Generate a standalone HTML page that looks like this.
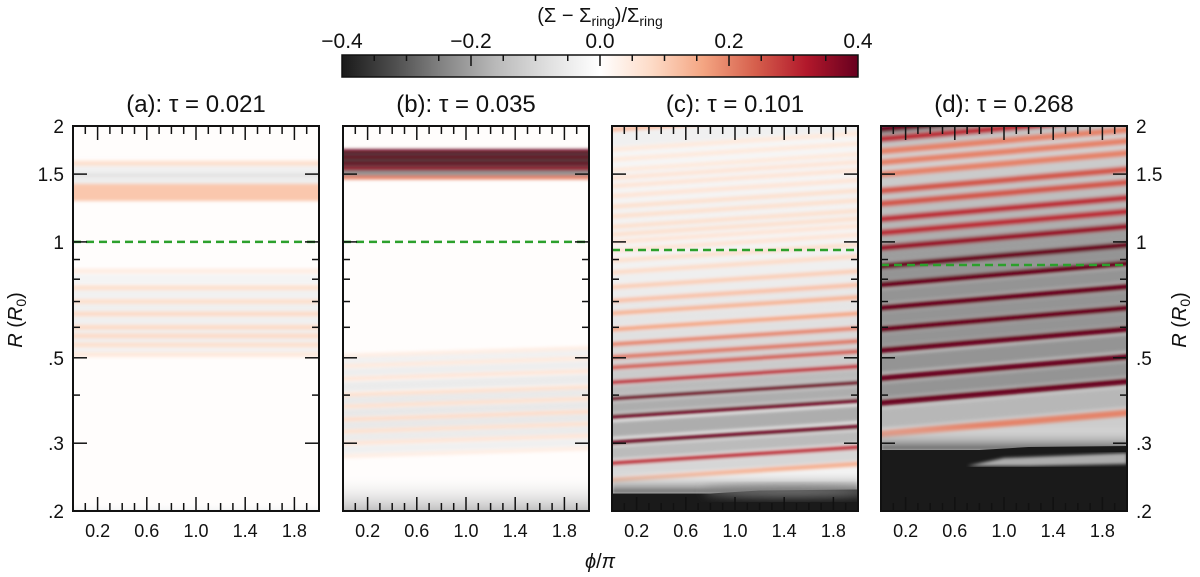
<!DOCTYPE html>
<html><head><meta charset="utf-8">
<style>
html,body{margin:0;padding:0;background:#fff;}
svg{display:block;font-family:"Liberation Sans","DejaVu Sans",sans-serif;}
</style></head>
<body>
<svg id="fig" width="1200" height="577" viewBox="0 0 1200 577" xmlns="http://www.w3.org/2000/svg">
<defs>
<linearGradient id="cbgrad" x1="0" x2="1" y1="0" y2="0">
<stop offset="0" stop-color="#1a1a1a"/><stop offset="0.1" stop-color="#4d4d4d"/><stop offset="0.2" stop-color="#878787"/><stop offset="0.3" stop-color="#bababa"/><stop offset="0.4" stop-color="#e0e0e0"/><stop offset="0.5" stop-color="#ffffff"/><stop offset="0.6" stop-color="#fddbc7"/><stop offset="0.7" stop-color="#f4a582"/><stop offset="0.8" stop-color="#d6604d"/><stop offset="0.9" stop-color="#b2182b"/><stop offset="1" stop-color="#67001f"/>
</linearGradient>
<filter id="blur" x="-5%" y="-5%" width="110%" height="110%"><feGaussianBlur stdDeviation="1.6"/></filter>
<filter id="blur2" x="-20%" y="-50%" width="140%" height="200%"><feGaussianBlur stdDeviation="5"/></filter>
</defs>
</svg>
<script>
// ---- data ----
const panelTitles = ["(a):  τ = 0.021","(b):  τ = 0.035","(c):  τ = 0.101","(d):  τ = 0.268"];
const ringR = [1.0, 1.0, 0.953, 0.871];
const tiltLogR = [0, 0.022, 0.045, 0.06];
const bgVal = [0.004, 0.004, -0.03, -0.12];
const stripesA_R = [1.6, 1.49, 1.37, 1.32, 0.84, 0.76, 0.70, 0.65, 0.60, 0.57, 0.54, 0.51];
const stripesA_V = [0.07, -0.07, 0.11, 0.11, 0.04, 0.07, 0.07, 0.08, 0.08, 0.08, 0.07, 0.05];
const stripesB_R = [1.72, 1.66, 1.60, 1.55, 1.47, 0.505, 0.475, 0.44, 0.40, 0.373, 0.345, 0.321, 0.299, 0.277];
const stripesB_V = [0.4, 0.4, 0.4, 0.35, 0.2, 0.04, 0.05, 0.06, 0.07, 0.07, 0.08, 0.07, 0.06, 0.04];
const stripesC_R = [1.95, 1.73, 1.63, 1.53, 1.46, 1.39, 1.31, 1.23, 1.16, 1.09, 1.04, 0.995, 0.945, 0.89, 0.83, 0.76, 0.70, 0.65, 0.59, 0.54, 0.50, 0.47, 0.43, 0.39, 0.35, 0.30, 0.265, 0.24];
const stripesC_V = [0.12, 0.05, 0.05, 0.05, 0.06, 0.06, 0.06, 0.07, 0.07, 0.07, 0.07, 0.06, 0.06, 0.07, 0.08, 0.1, 0.12, 0.14, 0.16, 0.2, 0.22, 0.25, 0.3, 0.4, 0.4, 0.4, 0.3, 0.15];
const stripesD_R = [1.95, 1.84, 1.71, 1.60, 1.49, 1.35, 1.25, 1.14, 1.05, 0.96, 0.86, 0.77, 0.67, 0.59, 0.52, 0.44, 0.38, 0.315];
const stripesD_V = [0.4, 0.3, 0.2, 0.2, 0.2, 0.25, 0.25, 0.3, 0.3, 0.35, 0.4, 0.4, 0.4, 0.4, 0.4, 0.4, 0.4, 0.2];
const bottomR = [0.212, 0.25, 0.222, 0.288];
const bottomV = [-0.03, -0.15, -0.4, -0.4];
const gapFactor = [0.5, 0.8, 0.45, 0.55];
const xTickVals = [0.2, 0.6, 1.0, 1.4, 1.8];
const xTickLabels = ["0.2","0.6","1.0","1.4","1.8"];
const yTickVals = [2, 1.5, 1, 0.5, 0.3, 0.2];
const yTickLabels = ["2","1.5","1",".5",".3",".2"];
const yMinorVals = [0.9, 0.8, 0.7, 0.6, 0.4];
const cbTickVals = [-0.4, -0.2, 0.0, 0.2, 0.4];
const cbTickLabels = ["−0.4","−0.2","0.0","0.2","0.4"];

const stripesR = [stripesA_R, stripesB_R, stripesC_R, stripesD_R];
const stripesV = [stripesA_V, stripesB_V, stripesC_V, stripesD_V];
const stripeW = [5, 4, 4.5, 6.5];

// ---- layout ----
const NS = "http://www.w3.org/2000/svg";
const svg = document.getElementById('fig');
const panelX = [73, 343, 612, 881];
const PW = 246, PT = 126, PB = 511;
const cbX0 = 342, cbX1 = 858, cbY0 = 55, cbY1 = 77;
function yOf(R){ return PT + (Math.log10(2) - Math.log10(R)) * (PB - PT); }
function xOf(p, phi){ return panelX[p] + phi / 2 * PW; }
function cbX(v){ return cbX0 + (v + 0.4) / 0.8 * (cbX1 - cbX0); }
const cmapStops = ["#1a1a1a","#4d4d4d","#878787","#bababa","#e0e0e0","#ffffff","#fddbc7","#f4a582","#d6604d","#b2182b","#67001f"];
function hex(c){ return [parseInt(c.substr(1,2),16),parseInt(c.substr(3,2),16),parseInt(c.substr(5,2),16)]; }
function cmap(v){
  let t = Math.max(0, Math.min(1, (v + 0.4) / 0.8)) * 10;
  let i = Math.min(9, Math.floor(t)), f = t - i;
  const a = hex(cmapStops[i]), b = hex(cmapStops[i+1]);
  return 'rgb(' + a.map((x,k)=>Math.round(x + (b[k]-x)*f)).join(',') + ')';
}
function mk(tag, attrs, parent){
  const e = document.createElementNS(NS, tag);
  for (const k in attrs) e.setAttribute(k, attrs[k]);
  (parent || svg).appendChild(e);
  return e;
}

// colorbar
const cbTitle = mk('text', {x: 600, y: 22, 'text-anchor':'middle', 'font-size': 20, fill:'#111'});


cbTitle.innerHTML = '(Σ − Σ<tspan font-size="14" dy="4">ring</tspan><tspan dy="-4">)/Σ</tspan><tspan font-size="14" dy="4">ring</tspan>';
const cbRect = mk('rect', {x: cbX0, y: cbY0, width: cbX1-cbX0, height: cbY1-cbY0, fill:'url(#cbgrad)', stroke:'#111', 'stroke-width':1.5});


for (let k = -7; k <= 7; k++) {
  const v = k * 0.05;
  const major = (k % 4 === 0);
  mk('line', {x1: cbX(v), x2: cbX(v), y1: cbY0, y2: cbY0 + (major ? 11 : 6), stroke:'#111', 'stroke-width': 1.5});
}
cbTickVals.forEach((v, i) => {
  const t = mk('text', {x: cbX(v), y: 48, 'text-anchor':'middle', 'font-size': 21, fill:'#111'});
  
  
  t.textContent = cbTickLabels[i];
});

// panels
for (let p = 0; p < 4; p++) {
  const g = mk('g', {});
  
  
  const x0 = panelX[p], x1 = x0 + PW;
  const clip = mk('clipPath', {id: 'clip' + p}, svg.querySelector('defs'));
  mk('rect', {x: x0, y: PT, width: PW, height: PB-PT}, clip);
  const hm = mk('g', {'clip-path': 'url(#clip' + p + ')'}, g);
  
  
  mk('rect', {x: x0, y: PT, width: PW, height: PB-PT, fill: cmap(bgVal[p])}, hm);
  const inner = mk('g', {filter: 'url(#blur)'}, hm);
  const Rs = stripesR[p], Vs = stripesV[p];
  const rise = tiltLogR[p] * (PB - PT);
  function band(R, v, w, flat){
    const yl = yOf(R), r = flat ? 0 : rise;
    const pts = [[x0-10, yl - w/2], [x1+10, yl - r - w/2], [x1+10, yl - r + w/2], [x0-10, yl + w/2]];
    const e = mk('polygon', {points: pts.map(q=>q.join(',')).join(' '), fill: cmap(v)}, inner);
    
    
  }
  for (let i = 0; i + 1 < Rs.length; i++) {
    const ya = yOf(Rs[i]), yb = yOf(Rs[i+1]);
    if (yb - ya > 45) continue;
    const Rm = Math.sqrt(Rs[i] * Rs[i+1]);
    const vm = -gapFactor[p] * (Math.abs(Vs[i]) + Math.abs(Vs[i+1])) / 2;
    band(Rm, vm, (yb - ya) * 0.6, p === 1 && Rm > 1);
  }
  for (let i = 0; i < Rs.length; i++) band(Rs[i], Vs[i], stripeW[p] * (Math.abs(Vs[i]) > 0.1 && p === 0 ? 2.2 : 1), p === 1 && Rs[i] > 1);
  const yb = yOf(bottomR[p]);
  if (p <= 1) {
    const gid = 'bg' + p;
    const lg = mk('linearGradient', {id: gid, x1:0, x2:0, y1:0, y2:1}, svg.querySelector('defs'));
    mk('stop', {offset: 0, 'stop-color': cmap(0), 'stop-opacity': 0}, lg);
    mk('stop', {offset: 1, 'stop-color': cmap(bottomV[p])}, lg);
    mk('rect', {x: x0, y: yb, width: PW, height: PB - yb, fill: 'url(#' + gid + ')'}, hm);
  } else {
    const gid = 'bg' + p;
    const lg = mk('linearGradient', {id: gid, x1:0, x2:0, y1:0, y2:1}, svg.querySelector('defs'));
    mk('stop', {offset: 0, 'stop-color': cmap(0), 'stop-opacity': 0}, lg);
    mk('stop', {offset: 1, 'stop-color': cmap(-0.3)}, lg);
    mk('rect', {x: x0, y: yb - 24, width: PW, height: 24, fill: 'url(#' + gid + ')', filter:'url(#blur)'}, hm);
    const dark = mk('polygon', {points: [[x0, yb], [x0 + PW*0.4, yb], [x0 + PW*0.6, yb - 3], [x1, yb - 4], [x1, PB], [x0, PB]].map(q=>q.join(',')).join(' '), fill: cmap(bottomV[p])}, hm);
    
    
    if (p === 2) {
      mk('ellipse', {cx: x0 + PW*0.72, cy: yb - 2, rx: PW*0.35, ry: 5, fill: cmap(-0.25), filter:'url(#blur2)'}, hm);
    } else {
      mk('polygon', {points: [[x0 + PW*0.35, yb + 16], [x0 + PW*0.5, yb + 8], [x1, yb + 3], [x1, yb + 14], [x0 + PW*0.6, yb + 16]].map(q=>q.join(',')).join(' '), fill: cmap(-0.18), filter:'url(#blur)'}, hm);
    }
  }
  const ry = yOf(ringR[p]);
  const rl = mk('line', {x1: x0, x2: x1, y1: ry, y2: ry, stroke: '#2ca02c', 'stroke-width': 2.5, 'stroke-dasharray': '8,5'}, g);
  
  
  for (let k = 1; k < 20; k++) {
    const phi = k / 10, X = xOf(p, phi);
    const major = (k % 4) === 2;
    const L = major ? 14 : 8;
    mk('line', {x1: X, x2: X, y1: PB, y2: PB - L, stroke: '#111', 'stroke-width': 1.5}, g);
    mk('line', {x1: X, x2: X, y1: PT, y2: PT + L, stroke: '#111', 'stroke-width': 1.5}, g);
  }
  yTickVals.forEach(v => {
    const Y = yOf(v);
    mk('line', {x1: x0, x2: x0 + 14, y1: Y, y2: Y, stroke: '#111', 'stroke-width': 1.5}, g);
    mk('line', {x1: x1, x2: x1 - 14, y1: Y, y2: Y, stroke: '#111', 'stroke-width': 1.5}, g);
  });
  yMinorVals.forEach(v => {
    const Y = yOf(v);
    mk('line', {x1: x0, x2: x0 + 7, y1: Y, y2: Y, stroke: '#111', 'stroke-width': 1.5}, g);
    mk('line', {x1: x1, x2: x1 - 7, y1: Y, y2: Y, stroke: '#111', 'stroke-width': 1.5}, g);
  });
  const fr = mk('rect', {x: x0, y: PT, width: PW, height: PB - PT, fill: 'none', stroke: '#111', 'stroke-width': 2}, g);
  
  
  xTickVals.forEach((v, i) => {
    const t = mk('text', {x: xOf(p, v), y: 537, 'text-anchor': 'middle', 'font-size': 18, fill: '#111'}, g);
    
    
    t.textContent = xTickLabels[i];
  });
  const tt = mk('text', {x: x0 + PW/2, y: 112, 'text-anchor': 'middle', 'font-size': 24, fill: '#111'}, g);
  
  
  tt.textContent = panelTitles[p];
}
yTickVals.forEach((v, i) => {
  const Y = yOf(v) + 7;
  const l = mk('text', {x: 64, y: Y, 'text-anchor': 'end', 'font-size': 19, fill: '#111'});
  
  
  l.textContent = yTickLabels[i];
  const r = mk('text', {x: 1136, y: Y, 'text-anchor': 'start', 'font-size': 19, fill: '#111'});
  
  
  r.textContent = yTickLabels[i];
});
const yl = mk('text', {x: 0, y: 0, 'text-anchor': 'middle', 'font-size': 20, fill: '#111', transform: 'translate(22,320) rotate(-90)'});


yl.innerHTML = '<tspan font-style="italic">R</tspan> (<tspan font-style="italic">R</tspan><tspan font-size="14" dy="4">0</tspan><tspan dy="-4">)</tspan>';
const yr = mk('text', {x: 0, y: 0, 'text-anchor': 'middle', 'font-size': 20, fill: '#111', transform: 'translate(1186,320) rotate(-90)'});


yr.innerHTML = '<tspan font-style="italic">R</tspan> (<tspan font-style="italic">R</tspan><tspan font-size="14" dy="4">0</tspan><tspan dy="-4">)</tspan>';
const xl = mk('text', {x: 600, y: 568, 'text-anchor': 'middle', 'font-size': 20, fill: '#111'});


xl.innerHTML = '<tspan font-style="italic">ϕ</tspan>/<tspan font-style="italic">π</tspan>';
</script>
</body></html>
